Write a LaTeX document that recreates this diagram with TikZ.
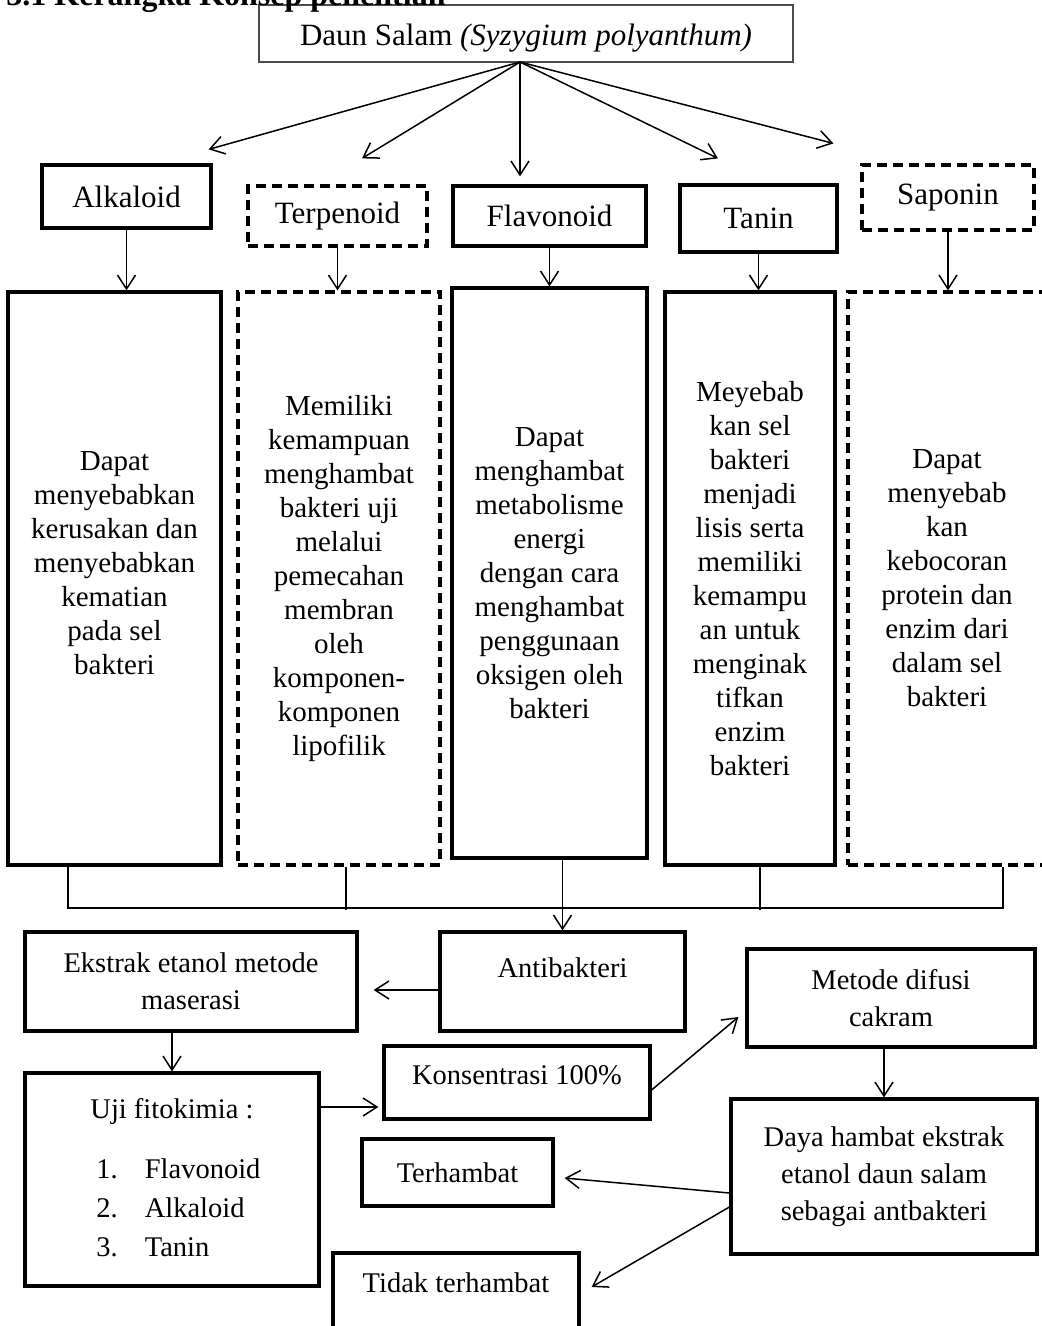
\documentclass[tikz,border=0pt]{standalone}
\usepackage{fontspec}
\setmainfont{Liberation Serif}
\usetikzlibrary{arrows.meta,calc}
\begin{document}
\begin{tikzpicture}[x=0.5pt,y=-0.5pt,
  box/.style={draw, line width=1.6pt, fill=white, inner sep=2pt, align=center},
  dbox/.style={box, dash pattern=on 5pt off 3pt},
  arr/.style={-{Straight Barb[length=7pt,width=9pt]}, line width=0.75pt},
  lbl/.style={font=\fontsize{15.5}{18}\selectfont},
  isi/.style={font=\fontsize{14.5}{17}\selectfont},
  bawah/.style={font=\fontsize{14.25}{18.5}\selectfont}]
\useasboundingbox (0,0) rectangle (1041,1326);
% judul
\node[draw=black!70, line width=0.6pt, minimum width=267pt, minimum height=28.5pt, text height=16pt, text depth=4pt, lbl] (daun) at (526,33.5) {Daun Salam \textit{(Syzygium polyanthum)}};
\node[anchor=base west, inner sep=0pt, font=\bfseries\fontsize{16}{19}\selectfont] (judul) at (6,6) {3.1 Kerangka Konsep penelitian};
\coordinate (src) at (520,62);
% senyawa
\node[box, minimum width=84.5pt, minimum height=31.5pt, lbl] (alk) at (126.5,196.5) {Alkaloid};
\node[dbox, minimum width=89.5pt, minimum height=30pt, lbl] (terp) at (337.5,216) {Terpenoid};
\node[box, minimum width=96.5pt, minimum height=30pt, lbl] (flav) at (549.5,216) {Flavonoid};
\node[box, minimum width=78.5pt, minimum height=33.5pt, lbl] (tan) at (758.5,218.5) {Tanin};
\node[dbox, minimum width=86pt, minimum height=32.5pt, lbl] (sap) at (948,197.5) {Saponin};
\draw[arr] (src) -- ($(alk.north east)+(-4,-14)$);
\draw[arr] (src) -- ($(terp.north)+(24.5,-26)$);
\draw[arr] (src) -- ($(flav.north)+(-29.5,-8)$);
\draw[arr] (src) -- ($(tan.north)+(-40.5,-25)$);
\draw[arr] (src) -- ($(sap.north west)+(-27,-20)$);
% mekanisme
\node[box, minimum width=106.5pt, minimum height=286.5pt, isi] (alkD) at (114.5,578.5) {Dapat\\menyebabkan\\kerusakan dan\\menyebabkan\\kematian\\pada sel\\bakteri\\[-1.5pt]\mbox{}};
\node[dbox, minimum width=101pt, minimum height=286.5pt, isi] (terpD) at (339,578.5) {Memiliki\\kemampuan\\menghambat\\bakteri uji\\melalui\\pemecahan\\membran\\oleh\\komponen-\\komponen\\lipofilik};
\node[box, minimum width=97.5pt, minimum height=285pt, isi] (flavD) at (549.5,573) {Dapat\\menghambat\\metabolisme\\energi\\dengan cara\\menghambat\\penggunaan\\oksigen oleh\\bakteri};
\node[box, minimum width=85pt, minimum height=286.5pt, isi] (tanD) at (750,578.5) {Meyebab\\kan sel\\bakteri\\menjadi\\lisis serta\\memiliki\\kemampu\\an untuk\\menginak\\tifkan\\enzim\\bakteri};
\node[dbox, minimum width=99pt, minimum height=286.5pt, isi] (sapD) at (947,578.5) {Dapat\\menyebab\\kan\\kebocoran\\protein dan\\enzim dari\\dalam sel\\bakteri};
\foreach \n in {alk,terp,flav,tan,sap}
  \draw[arr] (\n.south) -- (\n.south |- \n D.north);
% gabungan
\coordinate (brL) at (68,908);
\coordinate (brR) at (1003,908);
\draw[line width=0.75pt] (brL |- alkD.south) -- (brL) -- (brR) -- (brR |- sapD.south);
\foreach \n/\dx in {terpD/7,tanD/10}
  \draw[line width=0.75pt] ($(\n.south)+(\dx,0)$) -- ++(0,43);
% alur penelitian
\node[box, minimum width=166pt, minimum height=49.5pt, bawah] (eks) at (191,981.5) {Ekstrak etanol metode\\maserasi};
\node[box, minimum width=122.5pt, minimum height=49.5pt, bawah] (anti) at (562.5,981.5) {Antibakteri\\[-5pt]\mbox{}};
\node[box, minimum width=144pt, minimum height=49pt, bawah] (met) at (891,998) {Metode difusi\\cakram};
\node[box, minimum width=133pt, minimum height=36.5pt, bawah] (kon) at (517,1082.5) {Konsentrasi 100\%\\[-11.5pt]\mbox{}};
\node[box, minimum width=147pt, minimum height=106.5pt, bawah] (uji) at (172,1179.5) {\renewcommand\arraystretch{1.05}\begin{tabular}{@{}l@{\hspace{13.5pt}}l@{}}\multicolumn{2}{c}{Uji fitokimia :}\\[11pt] \hspace{9pt}1.&Flavonoid\\ \hspace{9pt}2.&Alkaloid\\ \hspace{9pt}3.&Tanin\end{tabular}};
\node[box, minimum width=95.5pt, minimum height=33.5pt, bawah] (ter) at (457.5,1172.5) {Terhambat};
\node[box, minimum width=153pt, minimum height=77.5pt, bawah] (daya) at (884,1176.5) {Daya hambat ekstrak\\etanol daun salam\\sebagai antbakteri};
\node[box, minimum width=123pt, minimum height=48pt, bawah] (tid) at (456,1301) {Tidak terhambat\\\mbox{}};
\draw[arr] (anti.north |- flavD.south) -- (anti.north);
\draw[arr] ([yshift=-4.25pt]anti.west) -- ([xshift=7.5pt,yshift=-4.25pt]eks.east);
\draw[arr] (uji.north |- eks.south) -- (uji.north);
\draw[arr] ([yshift=-12.25pt]kon.west -| uji.east) -- ([xshift=-2pt,yshift=-12.25pt]kon.west);
\draw[arr] ([yshift=-3.75pt]kon.east) -- ([xshift=-3.5pt,yshift=-9.5pt]met.west);
\draw[arr] (daya.north |- met.south) -- (daya.north);
\draw[arr] ([yshift=-8.25pt]daya.west) -- ([xshift=5pt,yshift=-2.75pt]ter.east);
\draw[arr] ([yshift=-15.25pt]daya.west) -- ([xshift=5.5pt,yshift=7pt]tid.east);
\end{tikzpicture}
\end{document}
